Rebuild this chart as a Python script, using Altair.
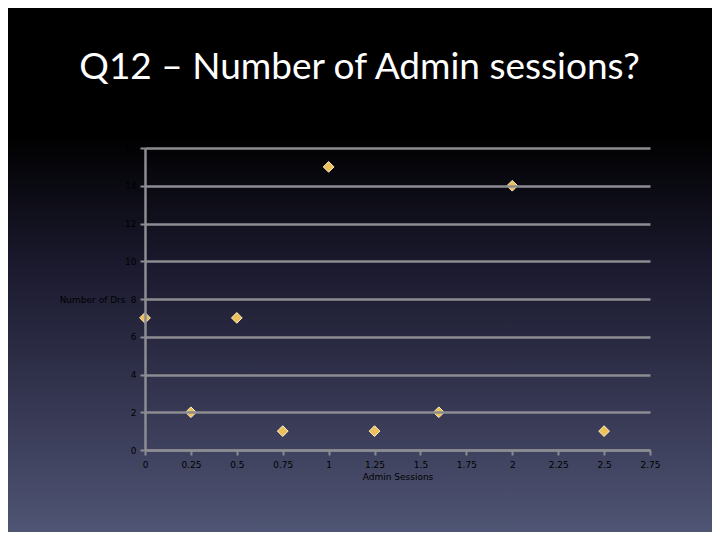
import altair as alt
import pandas as pd

# Data
admin_sessions = [0, 0.25, 0.5, 0.75, 1, 1.25, 1.6, 2, 2.5]
number_of_drs = [7, 2, 7, 1, 15, 1, 2, 14, 1]
x_ticks = [0, 0.25, 0.5, 0.75, 1, 1.25, 1.5, 1.75, 2, 2.25, 2.5, 2.75]
y_ticks = [0, 2, 4, 6, 8, 10, 12, 14, 16]
title_text = ["Q12 – Number of Admin sessions?"]

df = pd.DataFrame({"x": admin_sessions, "y": number_of_drs})

W, H = 505, 302
PL, PT, PR, PB = 137, 140, 62, 82

bg = alt.Chart(pd.DataFrame({"a": [0]})).mark_rect(
    clip=False,
    color=alt.Gradient(
        gradient="linear",
        x1=0, y1=0, x2=0, y2=1,
        stops=[
            alt.GradientStop(color="#000000", offset=0.0),
            alt.GradientStop(color="#000000", offset=0.24),
            alt.GradientStop(color="#1b1a2f", offset=0.5),
            alt.GradientStop(color="#353651", offset=0.75),
            alt.GradientStop(color="#4f5574", offset=1.0),
        ],
    ),
).encode(
    x=alt.value(-PL), x2=alt.value(W + PR),
    y=alt.value(-PT), y2=alt.value(H + PB),
)

title = alt.Chart(pd.DataFrame({"t": title_text})).mark_text(
    clip=False, color="#ffffff", fontSize=37, font="Lato", align="center",
    baseline="alphabetic",
).encode(
    text="t:N", x=alt.value(W / 2 - 38), y=alt.value(-69),
)

points = alt.Chart(df).mark_point(
    shape="diamond", filled=True, size=115, fill="#ecc15c",
    stroke="#fff1c4", strokeWidth=1, opacity=1,
).encode(
    x=alt.X("x:Q", scale=alt.Scale(domain=[0, 2.75], nice=False, zero=False),
            axis=alt.Axis(values=x_ticks, labelExpr="datum.value", title="Admin Sessions",
                          grid=False, domain=True, domainColor="#8c8c92", domainWidth=2.5,
                          ticks=True, tickColor="#8c8c92", tickSize=5, tickWidth=2,
                          labelColor="#000000", labelFontSize=9, labelFont="DejaVu Sans",
                          labelPadding=5, labelFlush=False, titleColor="#000000",
                          titleFontSize=9, titleFont="DejaVu Sans",
                          titleFontWeight="normal", titlePadding=3, zindex=1)),
    y=alt.Y("y:Q", scale=alt.Scale(domain=[0, 16], nice=False),
            axis=alt.Axis(values=y_ticks, title="Number of Drs", grid=True,
                          gridColor="#8c8c92", gridWidth=2.5, gridOpacity=1,
                          domain=True, domainColor="#8c8c92", domainWidth=2.5,
                          ticks=True, tickColor="#8c8c92", tickSize=5, tickWidth=2,
                          labelColor="#000000", labelFontSize=9, labelFont="DejaVu Sans",
                          labelPadding=4, labelFlush=False, titleColor="#000000",
                          titleFontSize=9, titleFont="DejaVu Sans",
                          titleFontWeight="normal",
                          titleAngle=0, titleAlign="right", titleBaseline="middle",
                          titleX=-20, titleY=151, zindex=1)),
)

chart = alt.layer(bg, title, points).properties(
    width=W, height=H,
    autosize=alt.AutoSizeParams(type="none"),
    padding={"left": PL, "top": PT, "right": PR, "bottom": PB},
    background="#000000",
).configure_view(stroke=None)

chart.save("out.html", embed_options={"renderer": "svg", "actions": False})
